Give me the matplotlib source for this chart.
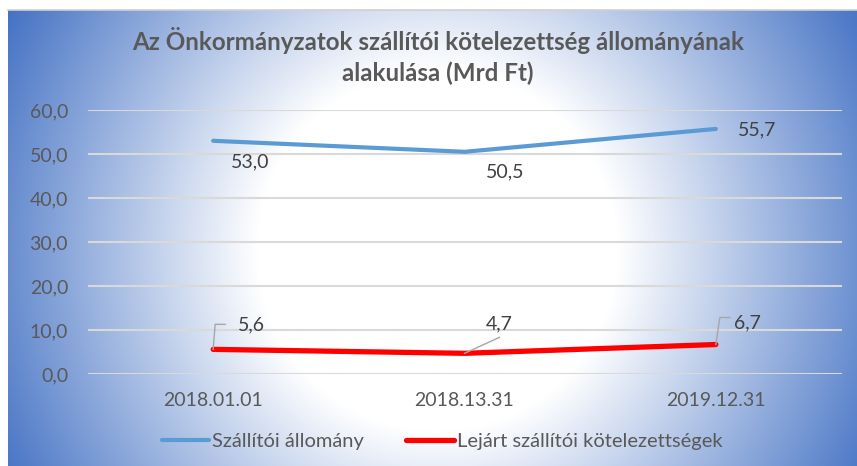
import numpy as np
import matplotlib
matplotlib.use("Agg")
import matplotlib.pyplot as plt
from matplotlib.lines import Line2D

plt.rcParams['font.family'] = ['Lato', 'DejaVu Sans']

categories = ["2018.01.01", "2018.13.31", "2019.12.31"]
supplier_stock = [53.0, 50.5, 55.7]
overdue = [5.6, 4.7, 6.7]
series_names = ["Szállítói állomány", "Lejárt szállítói kötelezettségek"]
title = "Az Önkormányzatok szállítói kötelezettség állományának\nalakulása (Mrd Ft)"
yticks = [0, 10, 20, 30, 40, 50, 60]

W, H = 857, 466
fig = plt.figure(figsize=(W / 100, H / 100), dpi=100)
fig.patch.set_facecolor("white")

# radial gradient background panel
bx0, by0 = 8, 10
bg = fig.add_axes([bx0 / W, 0, 1 - bx0 / W, (H - by0) / H])
bg.set_axis_off()
pw, ph = W - bx0, H - by0
xx, yy = np.meshgrid(np.arange(pw) + bx0, np.arange(ph) + by0)
cx, cy = 437, 250
d = np.sqrt((xx - cx) ** 2 + (yy - cy) ** 2)
t = np.clip((d - 180) / 310, 0, 1)
blue = np.array([0x44, 0x72, 0xC4]) / 255
white = np.array([1.0, 1.0, 1.0])
img = white[None, None, :] * (1 - t[..., None]) + blue[None, None, :] * t[..., None]
bg.imshow(img, aspect="auto", interpolation="bilinear")
fig.add_artist(Line2D([bx0 / W, 1], [1 - by0 / H, 1 - by0 / H], color="#D0D0D0", lw=1.2))

# main axes
left, right = 87.5, 841.5
top, bottom = 110, 374
ax = fig.add_axes([left / W, 1 - bottom / H, (right - left) / W, (bottom - top) / H])
ax.set_facecolor("none")
for s in ax.spines.values():
    s.set_visible(False)
x = np.arange(len(categories))
ax.set_xlim(-0.5, len(categories) - 0.5)
ax.set_ylim(0, 60)
ax.set_yticks(yticks)
ax.set_yticklabels([f"{v:.1f}".replace(".", ",") for v in yticks])
ax.set_xticks(x)
ax.set_xticklabels(categories)
ax.tick_params(axis="y", length=0, pad=14, labelsize=14, labelcolor="#595959")
ax.tick_params(axis="x", length=0, pad=13, labelsize=14, labelcolor="#595959")
ax.yaxis.grid(True, color="#D9D9D9", lw=1.5)
ax.set_axisbelow(True)

l1, = ax.plot(x, supplier_stock, color="#5B9BD5", lw=3.0, solid_capstyle="round",
              solid_joinstyle="round", label=series_names[0])
l2, = ax.plot(x, overdue, color="#FF0000", lw=3.8, solid_capstyle="round",
              solid_joinstyle="round", label=series_names[1])

fmt = lambda v: f"{v:.1f}".replace(".", ",")
blue_offsets = [(37, -21), (41, -20), (41, -1)]
for xi, v, off in zip(x, supplier_stock, blue_offsets):
    ax.annotate(fmt(v), (xi, v), xytext=off, textcoords="offset pixels",
                ha="center", va="center", fontsize=14, color="#404040")

red_offsets = [(38, 24), (35, 29), (32, 22)]
red_leaders = [[(0, 0), (2, 25), (12, 25)],
               [(0, 0), (35, 16)],
               [(0, 0), (4, 27), (14, 27)]]
for xi, v, off, lead in zip(x, overdue, red_offsets, red_leaders):
    ax.annotate(fmt(v), (xi, v), xytext=off, textcoords="offset pixels",
                ha="center", va="center", fontsize=14, color="#404040")
    px, py = ax.transData.transform((xi, v))
    pts = [fig.transFigure.inverted().transform((px + dx, py + dy)) for dx, dy in lead]
    fig.add_artist(Line2D([p[0] for p in pts], [p[1] for p in pts],
                          color="#A6A6A6", lw=1.0))

fig.text(0.511, 1 - 56 / H, title, ha="center", va="center", fontsize=17.4,
         fontweight="bold", color="#595959", linespacing=1.35)

leg = fig.legend(handles=[l1, l2], loc="center", bbox_to_anchor=(0.516, 1 - 441 / H),
                 ncol=2, frameon=False, fontsize=14.5, handlelength=2.34,
                 handletextpad=0.15, columnspacing=2.1, labelcolor="#595959")

fig.savefig("out.png", dpi=100)
